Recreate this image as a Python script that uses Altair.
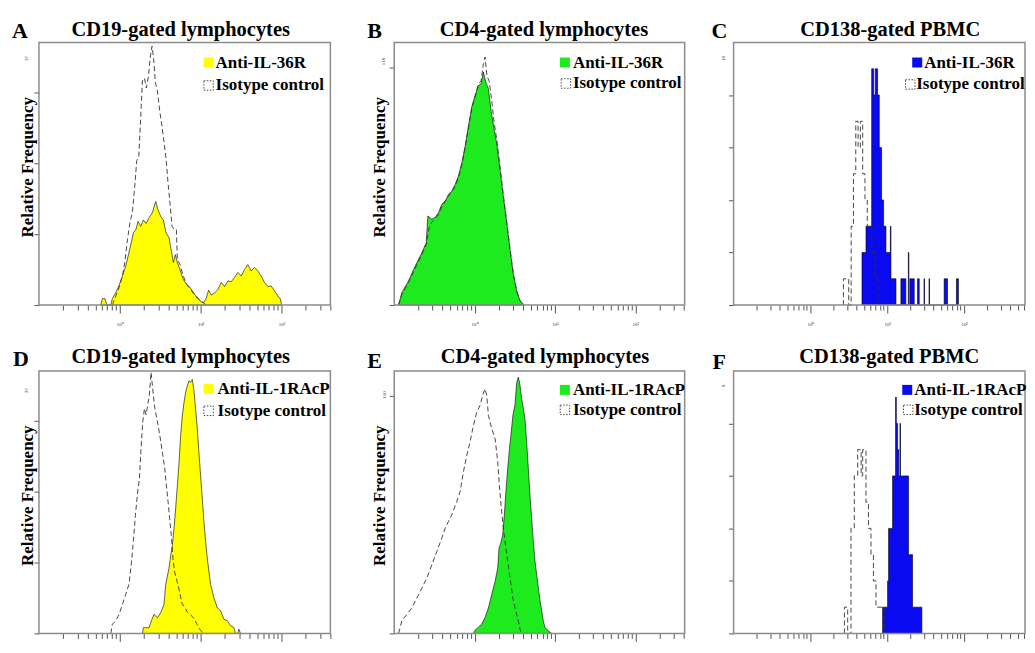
import altair as alt
import pandas as pd

# ---------------- data: (log10 decade position above axis start, count) ----------------
A_ANTI = [(0.765, 0), (0.786, 0.93), (0.815, 0.93), (0.840, 0), (0.889, 0), (0.909, 0.93), (0.951, 1.77),
          (0.992, 2.8), (1.033, 4.1), (1.074, 5.5), (1.103, 6.9), (1.136, 8.5), (1.169, 10.2), (1.198, 10.6),
          (1.226, 11.8), (1.259, 11.1), (1.292, 12.0), (1.325, 11.5), (1.362, 12.3), (1.403, 13.0),
          (1.444, 14.6), (1.473, 13.4), (1.506, 12.5), (1.539, 12.0), (1.572, 10.2), (1.609, 9.5),
          (1.638, 7.6), (1.663, 6.0), (1.687, 7.1), (1.712, 6.0), (1.745, 5.0), (1.786, 3.6), (1.827, 2.9),
          (1.868, 2.5), (1.909, 1.8), (1.951, 1.1), (1.992, 0.6), (2.033, 0.3), (2.066, 0.84), (2.099, 2.1),
          (2.132, 1.4), (2.173, 1.7), (2.214, 2.2), (2.255, 3.2), (2.296, 2.6), (2.337, 3.4), (2.379, 3.3),
          (2.420, 3.9), (2.461, 4.6), (2.502, 4.1), (2.543, 5.0), (2.584, 5.7), (2.626, 4.8), (2.667, 5.3),
          (2.708, 4.8), (2.749, 4.1), (2.790, 3.2), (2.831, 2.6), (2.872, 2.7), (2.914, 2.0), (2.955, 1.3),
          (2.988, 0.84), (3.0, 0)]
A_ISO = [(0.909, 0), (0.951, 1.3), (0.992, 2.5), (1.033, 4.1), (1.062, 6.0), (1.095, 9.2), (1.128, 11.8),
         (1.156, 13.0), (1.185, 16.7), (1.210, 20.4), (1.235, 20.9), (1.259, 26.5), (1.280, 31.6),
         (1.305, 32.0), (1.329, 30.6), (1.354, 32.2), (1.379, 35.1), (1.399, 36.5), (1.420, 34.6),
         (1.440, 31.4), (1.465, 30.2), (1.494, 27.4), (1.523, 25.1), (1.547, 23.0), (1.572, 20.7),
         (1.597, 17.2), (1.621, 14.4), (1.646, 11.1), (1.671, 10.7), (1.700, 10.7), (1.712, 6.4),
         (1.745, 5.7), (1.786, 4.1), (1.827, 2.9), (1.877, 2.2), (1.926, 1.4), (1.975, 0.9), (2.025, 0.4),
         (2.066, 0)]

B_ANTI = [(0.054, 0), (0.095, 5.8), (0.178, 11.2), (0.261, 18.1), (0.344, 24.3), (0.398, 28.9), (0.418, 41.3),
          (0.468, 39.8), (0.509, 40.6), (0.551, 42.9), (0.592, 46.7), (0.634, 48.2), (0.675, 51.3),
          (0.716, 52.8), (0.758, 55.9), (0.799, 59.8), (0.841, 65.9), (0.882, 73.6), (0.923, 82.9),
          (0.965, 91.9), (1.006, 97.2), (1.048, 101.8), (1.081, 102.6), (1.110, 108.0), (1.139, 103.4),
          (1.172, 100.3), (1.205, 90.3), (1.238, 82.6), (1.275, 75.0), (1.317, 62.7), (1.358, 50.4),
          (1.400, 38.2), (1.441, 25.8), (1.482, 14.3), (1.524, 6.6), (1.565, 2.0), (1.619, 0)]
B_ISO = [(0.054, 0), (0.095, 5.0), (0.178, 10.5), (0.261, 17.0), (0.344, 23.5), (0.398, 28.0), (0.435, 36.0),
         (0.468, 38.5), (0.509, 40.0), (0.551, 42.0), (0.592, 45.5), (0.634, 48.0), (0.675, 50.5),
         (0.716, 52.5), (0.758, 55.0), (0.799, 59.0), (0.841, 65.0), (0.882, 73.0), (0.923, 82.0),
         (0.965, 91.0), (1.006, 96.5), (1.048, 102.5), (1.081, 104.0), (1.110, 112.0), (1.130, 115.0),
         (1.155, 106.0), (1.180, 104.0), (1.213, 95.0), (1.242, 85.0), (1.275, 77.0), (1.317, 64.0),
         (1.358, 51.0), (1.400, 38.5), (1.441, 26.0), (1.482, 14.5), (1.524, 6.5), (1.565, 2.0), (1.619, 0)]

C_ANTI = [(1.671, 0), (1.671, 2), (1.723, 3), (1.797, 9), (1.823, 8), (1.844, 9), (1.874, 8), (1.896, 6),
          (1.926, 4), (1.952, 3), (1.983, 2), (2.040, 3), (2.048, 1), (2.113, 0), (2.177, 1), (2.242, 0),
          (2.274, 2), (2.281, 0), (2.294, 1), (2.351, 0), (2.394, 1), (2.416, 0), (2.478, 1), (2.485, 0),
          (2.543, 1), (2.550, 0), (2.740, 1), (2.784, 0), (2.900, 1), (2.926, 0)]
C_ISO = [(1.429, 0), (1.429, 1), (1.498, 0), (1.530, 3), (1.560, 5), (1.590, 7), (1.620, 6), (1.650, 7),
         (1.680, 5), (1.710, 4), (1.740, 3), (1.770, 3), (1.800, 2), (1.840, 1), (1.880, 0)]

D_ANTI = [(1.280, 0), (1.292, 0.8), (1.362, 0.8), (1.391, 1.8), (1.424, 2.7), (1.465, 2.2), (1.506, 2.9),
          (1.547, 4.1), (1.568, 6.9), (1.609, 9.2), (1.630, 11.0), (1.650, 12.4), (1.671, 14.8),
          (1.691, 17.6), (1.712, 20.8), (1.733, 24.1), (1.753, 27.9), (1.774, 30.7), (1.794, 32.5),
          (1.815, 34.0), (1.835, 34.9), (1.856, 35.6), (1.877, 35.4), (1.897, 35.8), (1.918, 34.2),
          (1.938, 31.6), (1.959, 28.8), (1.979, 25.5), (2.0, 22.2), (2.021, 19.0), (2.041, 15.7),
          (2.062, 12.9), (2.082, 10.6), (2.103, 8.7), (2.123, 6.9), (2.165, 5.0), (2.206, 3.6), (2.247, 3.2),
          (2.288, 2.0), (2.329, 1.8), (2.370, 1.1), (2.412, 0.8), (2.432, 0), (2.461, 0), (2.473, 0.6),
          (2.494, 0)]
D_ISO = [(0.889, 0), (0.909, 1.3), (0.951, 1.8), (0.992, 2.7), (1.033, 4.1), (1.074, 5.5), (1.115, 7.0),
         (1.144, 10.0), (1.169, 13.1), (1.193, 16.6), (1.218, 19.6), (1.243, 21.9), (1.263, 26.1),
         (1.284, 29.8), (1.305, 31.7), (1.325, 30.8), (1.346, 32.2), (1.366, 33.6), (1.387, 36.8),
         (1.407, 34.5), (1.428, 32.2), (1.449, 30.8), (1.473, 29.4), (1.502, 27.4), (1.531, 25.2),
         (1.556, 23.3), (1.576, 20.9), (1.597, 18.6), (1.617, 16.2), (1.638, 13.8), (1.658, 10.5),
         (1.679, 8.6), (1.712, 7.2), (1.741, 5.8), (1.770, 4.2), (1.802, 3.7), (1.835, 3.0), (1.877, 2.6),
         (1.918, 2.1), (1.959, 1.2), (2.0, 0.4), (2.041, 0)]

E_ANTI = [(0.986, 0), (1.006, 1.5), (1.048, 2.9), (1.089, 4.3), (1.130, 7.4), (1.172, 11.8), (1.213, 18.0),
          (1.255, 24.1), (1.288, 30.3), (1.304, 39.5), (1.329, 42.2), (1.350, 45.8), (1.371, 55.3),
          (1.391, 66.4), (1.412, 76.3), (1.433, 85.3), (1.453, 92.2), (1.478, 101.4), (1.503, 106.1),
          (1.524, 116.2), (1.545, 118.8), (1.565, 115.1), (1.586, 108.8), (1.607, 104.3), (1.627, 99.5),
          (1.648, 88.8), (1.669, 76.5), (1.689, 64.2), (1.710, 53.5), (1.731, 42.7), (1.752, 33.5),
          (1.772, 27.5), (1.793, 21.4), (1.814, 15.4), (1.834, 10.8), (1.855, 5.9), (1.876, 2.8),
          (1.917, 1.2), (1.959, 0)]
E_ISO = [(0.054, 0), (0.095, 5.8), (0.157, 8.8), (0.219, 11.8), (0.282, 16.4), (0.344, 21.0), (0.406, 25.7),
         (0.468, 31.8), (0.530, 38.0), (0.592, 44.2), (0.634, 48.8), (0.675, 51.9), (0.716, 55.0),
         (0.778, 61.1), (0.820, 65.7), (0.861, 74.9), (0.903, 82.6), (0.944, 88.8), (0.986, 96.5),
         (1.027, 102.6), (1.068, 105.7), (1.101, 110.4), (1.130, 113.4), (1.151, 110.4), (1.172, 101.1),
         (1.213, 95.0), (1.255, 90.4), (1.288, 79.6), (1.308, 68.8), (1.329, 59.6), (1.358, 48.8),
         (1.400, 36.6), (1.441, 25.8), (1.482, 15.1), (1.524, 8.9), (1.553, 4.3), (1.578, 0)]

F_ANTI = [(1.939, 0), (1.939, 1), (2.004, 2), (2.017, 4), (2.069, 6), (2.108, 9), (2.118, 8), (2.134, 7),
          (2.150, 6), (2.165, 8), (2.172, 6), (2.277, 3), (2.329, 1), (2.450, 0)]
F_ISO = [(1.442, 0), (1.442, 1), (1.485, 0), (1.528, 4), (1.571, 6), (1.615, 7), (1.660, 6), (1.680, 7),
         (1.723, 5), (1.755, 4), (1.788, 3), (1.820, 2), (1.853, 1), (1.960, 0)]

TITLES = ["CD19-gated lymphocytes", "CD4-gated lymphocytes", "CD138-gated PBMC"]
LETTERS = ["A", "B", "C", "D", "E", "F"]
ANTI_LABELS = ["Anti-IL-36R", "Anti-IL-1RAcP"]
ISO_LABEL = "Isotype control"
Y_TOP_LABELS = ["37", "110", "10", "37", "110", "9"]
Y_TITLE = "Relative Frequency"

SERIF = "Liberation Serif"
YELLOW, GREEN, BLUE = "#FFFF00", "#1EEB1E", "#0A0AF0"
FRAME = "#8c8c8c"
BOX_H = 263
DECADE = "abs(log(datum.value)/LN10 - round(log(datum.value)/LN10)) < 0.001"
XLAB = ("datum.value == 1 ? '10\u2070' : datum.value == 10 ? '10\u00b9' : "
        "datum.value == 100 ? '10\u00b2' : datum.value == 1000 ? '10\u00b3' : ''")


def frame(pairs):
    return pd.DataFrame({"fl": [10 ** (d - 1) for d, _ in pairs], "count": [c for _, c in pairs]})


def x_ticks(xmax):
    vals = []
    for k in range(-1, 4):
        for m in range(1, 10):
            v = round(m * 10.0 ** k, 6)
            if 0.1 < v <= xmax:
                vals.append(v)
    return vals


def one():
    return alt.Chart(pd.DataFrame({"k": [0]}))


def txt(t, x, y, size, bold=True, angle=0, align="left", baseline="middle", color="black"):
    kw = dict(font=SERIF, fontSize=size, align=align, baseline=baseline, color=color)
    if bold:
        kw["fontWeight"] = "bold"
    if angle:
        kw["angle"] = angle
    return alt.Chart(pd.DataFrame({"t": [t]})).mark_text(**kw).encode(
        text="t:N", x=alt.value(x), y=alt.value(y))


def panel(p):
    W, bw, h = p["W"], p["bw"], BOX_H
    xmax = 10 ** (W / p["ppd"] - 1)
    xbox = 10 ** (bw / p["ppd"] - 1)
    xs = alt.Scale(type="log", domain=[0.1, xmax], nice=False)
    ys = alt.Scale(domain=[0, p["ymax"]], nice=False, zero=True)
    xaxis = alt.Axis(values=x_ticks(xbox), labelExpr=XLAB, labels=p["xlabels"], title=None, domain=False,
                     grid=False, tickSize={"condition": {"test": DECADE, "value": 8}, "value": 5},
                     tickColor="#555555", tickWidth=1, labelFontSize=5, labelFont=SERIF,
                     labelColor="#333333", labelPadding=9, labelOverlap=False, labelFlush=False)
    yaxis = alt.Axis(values=p["yticks"], labels=False, title=None, domain=False, grid=False,
                     tickSize=5, tickColor="#555555", tickWidth=1)
    interp = "step-after" if p["step"] else "linear"
    area = alt.Chart(frame(p["anti"])).mark_area(
        fill=p["fill"], stroke="black", strokeWidth=0.6, opacity=1, interpolate=interp
    ).encode(x=alt.X("fl:Q", scale=xs, axis=xaxis), y=alt.Y("count:Q", scale=ys, axis=yaxis))
    iso = alt.Chart(frame(p["iso"])).mark_line(
        color="#333333", strokeWidth=0.9, strokeDash=[5, 3], interpolate=interp
    ).encode(x=alt.X("fl:Q", scale=xs), y=alt.Y("count:Q", scale=ys))
    box = one().mark_rect(filled=False, stroke=FRAME, strokeWidth=1.5).encode(
        x=alt.value(0), x2=alt.value(bw), y=alt.value(0), y2=alt.value(h))
    lg = p["legend"]
    sw1 = one().mark_square(size=100, fill=p["fill"], opacity=1, filled=True).encode(
        x=alt.value(lg[0]), y=alt.value(lg[1]))
    sw2 = one().mark_square(size=90, fill="white", filled=True, stroke="#333333", strokeWidth=0.9,
                            strokeDash=[1.5, 1.5], opacity=1).encode(x=alt.value(lg[3]), y=alt.value(lg[4]))
    layers = [area, iso, box, sw1, sw2,
              txt(p["anti_label"], lg[2], lg[1], 17),
              txt(ISO_LABEL, lg[5], lg[4], 17),
              txt(p["title"], p["tpos"][0], p["tpos"][1], 20.5, align="center", baseline="alphabetic"),
              txt(p["letter"], p["lpos"][0], p["lpos"][1], 22, baseline="alphabetic"),
              txt(p["toplab"], p["ypos"][0], p["ypos"][1], 5, bold=False, angle=270, align="center",
                  color="#333333")]
    if p.get("ytitle"):
        layers.append(txt(Y_TITLE, p["ytitle"][0], p["ytitle"][1], 17, angle=270, align="center"))
    return alt.layer(*layers).properties(width=W, height=h)


# layout columns: width of each grid column and of the drawn box inside it
COLS = [dict(W=307, bw=292, ppd=81), dict(W=291, bw=291, ppd=80.5), dict(W=292, bw=292, ppd=77)]

specs = [
    dict(COLS[0], letter=LETTERS[0], title=TITLES[0], anti=A_ANTI, iso=A_ISO, anti_label=ANTI_LABELS[0],
         fill=YELLOW, ymax=37, yticks=[0, 10, 20, 30], step=False, toplab=Y_TOP_LABELS[0], xlabels=True,
         ypos=(-13, 16), lpos=(-27, -5), tpos=(142, -7), ytitle=(-11, 125), legend=(170, 20, 177, 170, 43, 177)),
    dict(COLS[1], letter=LETTERS[1], title=TITLES[1], anti=B_ANTI, iso=B_ISO, anti_label=ANTI_LABELS[0],
         fill=GREEN, ymax=121.7, yticks=[0, 110], step=False, toplab=Y_TOP_LABELS[1], xlabels=True,
         ypos=(-11, 19), lpos=(-27, -5), tpos=(150, -7), ytitle=(-14, 125), legend=(171, 20, 179, 172, 41, 179)),
    dict(COLS[2], letter=LETTERS[2], title=TITLES[2], anti=C_ANTI, iso=C_ISO, anti_label=ANTI_LABELS[0],
         fill=BLUE, ymax=10, yticks=list(range(10)), step=True, toplab=Y_TOP_LABELS[2], xlabels=True,
         ypos=(-11, 16), lpos=(-22, -5), tpos=(157, -7), legend=(184, 20, 191, 177, 42, 183)),
    dict(COLS[0], letter=LETTERS[3], title=TITLES[0], anti=D_ANTI, iso=D_ISO, anti_label=ANTI_LABELS[1],
         fill=YELLOW, ymax=37, yticks=[0, 10, 20, 30], step=False, toplab=Y_TOP_LABELS[3], xlabels=False,
         ypos=(-13, 20), lpos=(-26, -5), tpos=(142, -8), ytitle=(-11, 125), legend=(170, 18, 179, 170, 40, 179)),
    dict(COLS[1], letter=LETTERS[4], title=TITLES[1], anti=E_ANTI, iso=E_ISO, anti_label=ANTI_LABELS[1],
         fill=GREEN, ymax=121.7, yticks=[0, 110], step=False, toplab=Y_TOP_LABELS[4], xlabels=False,
         ypos=(-10, 24), lpos=(-27, -3), tpos=(151, -8), ytitle=(-14, 125), legend=(171, 19, 179, 171, 39, 179)),
    dict(COLS[2], letter=LETTERS[5], title=TITLES[2], anti=F_ANTI, iso=F_ISO, anti_label=ANTI_LABELS[1],
         fill=BLUE, ymax=10, yticks=list(range(10)), step=True, toplab=Y_TOP_LABELS[5], xlabels=False,
         ypos=(-11, 15), lpos=(-21, -2), tpos=(156, -8), legend=(174, 19, 181, 175, 39, 181)),
]

P = [panel(s) for s in specs]

chart = alt.concat(*P, columns=3, spacing={"row": 66, "column": 49}, bounds="flush").properties(
    padding={"left": 3, "top": 10, "right": 0, "bottom": 0}, background="white"
).configure_view(stroke="transparent").configure_axis(domain=False, grid=False)

chart.save("out.html", embed_options={"renderer": "svg", "actions": False})
